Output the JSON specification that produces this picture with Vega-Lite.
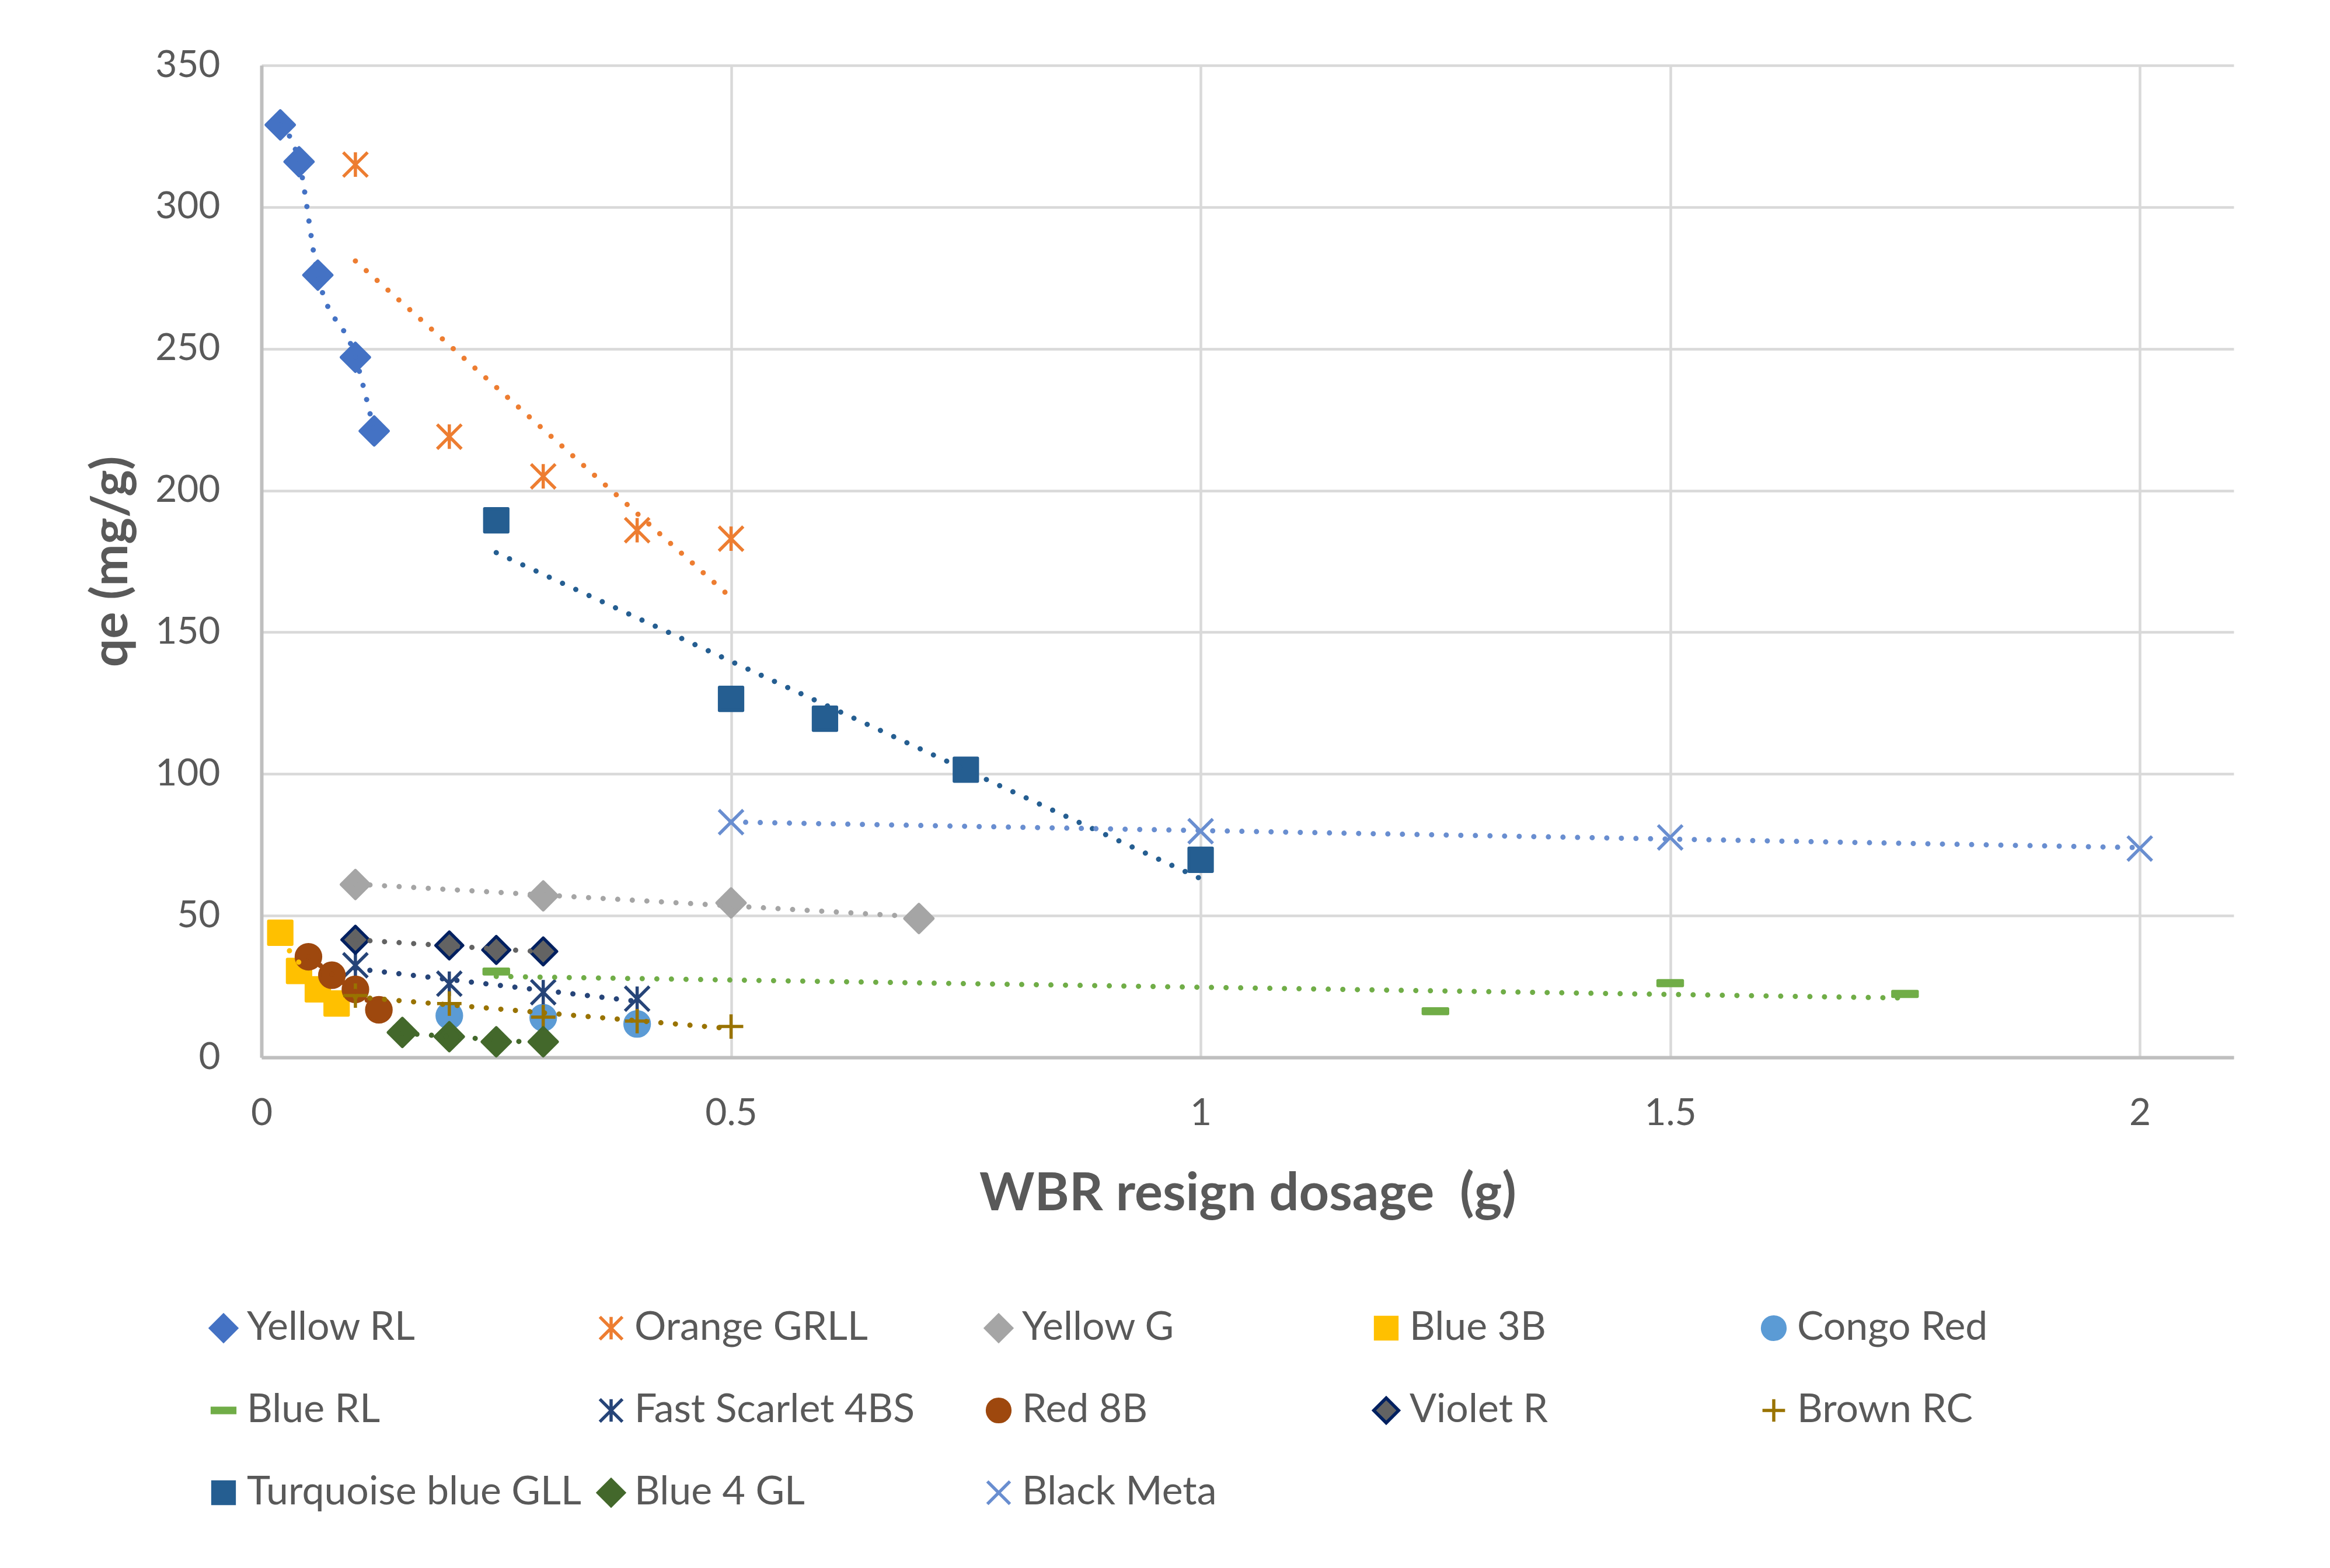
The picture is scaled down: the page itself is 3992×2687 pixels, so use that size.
{
  "$schema": "https://vega.github.io/schema/vega-lite/v6.json",
  "width": 3379,
  "height": 1700,
  "autosize": "none",
  "padding": {"left": 448, "top": 112, "right": 165, "bottom": 875},
  "background": "white",
  "config": {
    "view": {"stroke": null},
    "font": "Lato",
    "axis": {
      "domainColor": "#BFBFBF",
      "domainWidth": 6,
      "gridColor": "#D9D9D9",
      "gridWidth": 4.5,
      "ticks": false,
      "tickSize": 0,
      "labelColor": "#595959",
      "labelFont": "Lato",
      "labelFontSize": 64,
      "labelFlush": false,
      "titleColor": "#595959",
      "titleFont": "Lato",
      "titleFontWeight": "bold"
    },
    "legend": {
      "labelColor": "#595959",
      "labelFont": "Lato",
      "labelFontSize": 68,
      "labelLimit": 2000,
      "symbolStrokeWidth": 5.5,
      "symbolSize": 1500
    }
  },
  "data": {
    "values": [
      {"series": "Yellow RL", "x": 0.02, "y": 329},
      {"series": "Yellow RL", "x": 0.04, "y": 316},
      {"series": "Yellow RL", "x": 0.06, "y": 276},
      {"series": "Yellow RL", "x": 0.1, "y": 247},
      {"series": "Yellow RL", "x": 0.12, "y": 221},
      {"series": "Orange GRLL", "x": 0.1, "y": 315},
      {"series": "Orange GRLL", "x": 0.2, "y": 219},
      {"series": "Orange GRLL", "x": 0.3, "y": 205},
      {"series": "Orange GRLL", "x": 0.4, "y": 186},
      {"series": "Orange GRLL", "x": 0.5, "y": 183},
      {"series": "Yellow G", "x": 0.1, "y": 61},
      {"series": "Yellow G", "x": 0.3, "y": 57},
      {"series": "Yellow G", "x": 0.5, "y": 54.5},
      {"series": "Yellow G", "x": 0.7, "y": 49},
      {"series": "Blue 3B", "x": 0.02, "y": 44},
      {"series": "Blue 3B", "x": 0.04, "y": 30.5},
      {"series": "Blue 3B", "x": 0.06, "y": 24},
      {"series": "Blue 3B", "x": 0.08, "y": 19},
      {"series": "Congo Red", "x": 0.2, "y": 14.7},
      {"series": "Congo Red", "x": 0.3, "y": 14},
      {"series": "Congo Red", "x": 0.4, "y": 11.8},
      {"series": "Blue RL", "x": 0.25, "y": 30.3},
      {"series": "Blue RL", "x": 1.25, "y": 16.3},
      {"series": "Blue RL", "x": 1.5, "y": 26.2},
      {"series": "Blue RL", "x": 1.75, "y": 22.4},
      {"series": "Fast Scarlet 4BS", "x": 0.1, "y": 32.5},
      {"series": "Fast Scarlet 4BS", "x": 0.2, "y": 26},
      {"series": "Fast Scarlet 4BS", "x": 0.3, "y": 23},
      {"series": "Fast Scarlet 4BS", "x": 0.4, "y": 20.7},
      {"series": "Red 8B", "x": 0.05, "y": 35.5},
      {"series": "Red 8B", "x": 0.075, "y": 29},
      {"series": "Red 8B", "x": 0.1, "y": 24},
      {"series": "Red 8B", "x": 0.125, "y": 16.8},
      {"series": "Violet R", "x": 0.1, "y": 41.5},
      {"series": "Violet R", "x": 0.2, "y": 39.5},
      {"series": "Violet R", "x": 0.25, "y": 37.9},
      {"series": "Violet R", "x": 0.3, "y": 37.4},
      {"series": "Brown RC", "x": 0.1, "y": 21.8},
      {"series": "Brown RC", "x": 0.2, "y": 19},
      {"series": "Brown RC", "x": 0.3, "y": 14.2},
      {"series": "Brown RC", "x": 0.4, "y": 12.8},
      {"series": "Brown RC", "x": 0.5, "y": 10.9},
      {"series": "Turquoise blue GLL", "x": 0.25, "y": 189.5},
      {"series": "Turquoise blue GLL", "x": 0.5, "y": 126.5},
      {"series": "Turquoise blue GLL", "x": 0.6, "y": 119.5},
      {"series": "Turquoise blue GLL", "x": 0.75, "y": 101.5},
      {"series": "Turquoise blue GLL", "x": 1, "y": 69.7},
      {"series": "Blue 4 GL", "x": 0.15, "y": 8.8},
      {"series": "Blue 4 GL", "x": 0.2, "y": 7.3},
      {"series": "Blue 4 GL", "x": 0.25, "y": 5.5},
      {"series": "Blue 4 GL", "x": 0.3, "y": 5.5},
      {"series": "Black Meta", "x": 0.5, "y": 83},
      {"series": "Black Meta", "x": 1, "y": 79.8},
      {"series": "Black Meta", "x": 1.5, "y": 77.6},
      {"series": "Black Meta", "x": 2, "y": 73.7}
    ]
  },
  "layer": [
    {
      "mark": {"type": "point", "filled": true, "size": 1750, "strokeWidth": 5.5, "strokeJoin": "round", "opacity": 1},
      "encoding": {
        "x": {
          "field": "x",
          "type": "quantitative",
          "scale": {"domain": [0, 2.1], "nice": false},
          "axis": {
            "title": "WBR resign dosage \u00a0(g)",
            "values": [0, 0.5, 1, 1.5, 2],
            "format": "~g",
            "labelPadding": 96,
            "labelBaseline": "middle",
            "titleFontSize": 90,
            "titleBaseline": "alphabetic",
            "titleY": 261
          }
        },
        "y": {
          "field": "y",
          "type": "quantitative",
          "scale": {"domain": [0, 350], "nice": false},
          "axis": {
            "title": "qe (mg/g)",
            "values": [0, 50, 100, 150, 200, 250, 300, 350],
            "labelPadding": 71,
            "titleFontSize": 86,
            "titleBaseline": "alphabetic",
            "titleX": -231
          }
        },
        "shape": {
          "field": "series",
          "type": "nominal",
          "scale": {
            "domain": ["Yellow RL", "Orange GRLL", "Yellow G", "Blue 3B", "Congo Red", "Blue RL", "Fast Scarlet 4BS", "Red 8B", "Violet R", "Brown RC", "Turquoise blue GLL", "Blue 4 GL", "Black Meta"],
            "range": [
              "M-1.15,0L0,-1.15L1.15,0L0,1.15Z",
              "M-1,-1L1,1M1,-1L-1,1M0,-1L0,1",
              "M-1.15,0L0,-1.15L1.15,0L0,1.15Z",
              "M-0.95,-0.95L0.95,-0.95L0.95,0.95L-0.95,0.95Z",
              "circle",
              "M-1,-0.2L1,-0.2L1,0.2L-1,0.2Z",
              "M-1,-1L1,1M1,-1L-1,1M0,-1L0,1",
              "circle",
              "M-1.1,0L0,-1.1L1.1,0L0,1.1Z",
              "M-1,0L1,0M0,-1L0,1",
              "M-0.95,-0.95L0.95,-0.95L0.95,0.95L-0.95,0.95Z",
              "M-1.15,0L0,-1.15L1.15,0L0,1.15Z",
              "M-1,-1L1,1M1,-1L-1,1"
            ]
          },
          "legend": {
            "title": null,
            "orient": "none",
            "legendX": -99,
            "legendY": 2130,
            "direction": "horizontal",
            "columns": 5,
            "gridAlign": "all",
            "columnPadding": 17,
            "rowPadding": 73,
            "labelOffset": 6,
            "padding": 0
          }
        },
        "fill": {
          "field": "series",
          "type": "nominal",
          "scale": {
            "domain": ["Yellow RL", "Orange GRLL", "Yellow G", "Blue 3B", "Congo Red", "Blue RL", "Fast Scarlet 4BS", "Red 8B", "Violet R", "Brown RC", "Turquoise blue GLL", "Blue 4 GL", "Black Meta"],
            "range": ["#4472C4", "transparent", "#A5A5A5", "#FFC000", "#5B9BD5", "#70AD47", "transparent", "#9E480E", "#636363", "transparent", "#255E91", "#43682B", "transparent"]
          }
        },
        "stroke": {
          "field": "series",
          "type": "nominal",
          "scale": {
            "domain": ["Yellow RL", "Orange GRLL", "Yellow G", "Blue 3B", "Congo Red", "Blue RL", "Fast Scarlet 4BS", "Red 8B", "Violet R", "Brown RC", "Turquoise blue GLL", "Blue 4 GL", "Black Meta"],
            "range": ["#4472C4", "#ED7D31", "#A5A5A5", "#FFC000", "#5B9BD5", "#70AD47", "#264478", "#9E480E", "#002060", "#997300", "#255E91", "#43682B", "#698ED0"]
          }
        }
      }
    },
    {
      "transform": [
        {"filter": "datum.series !== 'Yellow RL' && datum.series !== 'Congo Red'"},
        {"regression": "y", "on": "x", "groupby": ["series"]}
      ],
      "mark": {"type": "line", "strokeWidth": 9, "strokeCap": "round", "strokeDash": [0.01, 25]},
      "encoding": {
        "x": {"field": "x", "type": "quantitative"},
        "y": {"field": "y", "type": "quantitative"},
        "color": {
          "field": "series",
          "type": "nominal",
          "legend": null,
          "scale": {
            "domain": ["Yellow RL", "Orange GRLL", "Yellow G", "Blue 3B", "Congo Red", "Blue RL", "Fast Scarlet 4BS", "Red 8B", "Violet R", "Brown RC", "Turquoise blue GLL", "Blue 4 GL", "Black Meta"],
            "range": ["#4472C4", "#ED7D31", "#A5A5A5", "#FFC000", "#5B9BD5", "#70AD47", "#264478", "#9E480E", "#636363", "#997300", "#255E91", "#43682B", "#698ED0"]
          }
        }
      }
    },
    {
      "transform": [{"filter": "datum.series === 'Yellow RL'"}],
      "mark": {"type": "line", "interpolate": "monotone", "color": "#4472C4", "strokeWidth": 9, "strokeCap": "round", "strokeDash": [0.01, 25]},
      "encoding": {
        "x": {"field": "x", "type": "quantitative"},
        "y": {"field": "y", "type": "quantitative"}
      }
    }
  ]
}
